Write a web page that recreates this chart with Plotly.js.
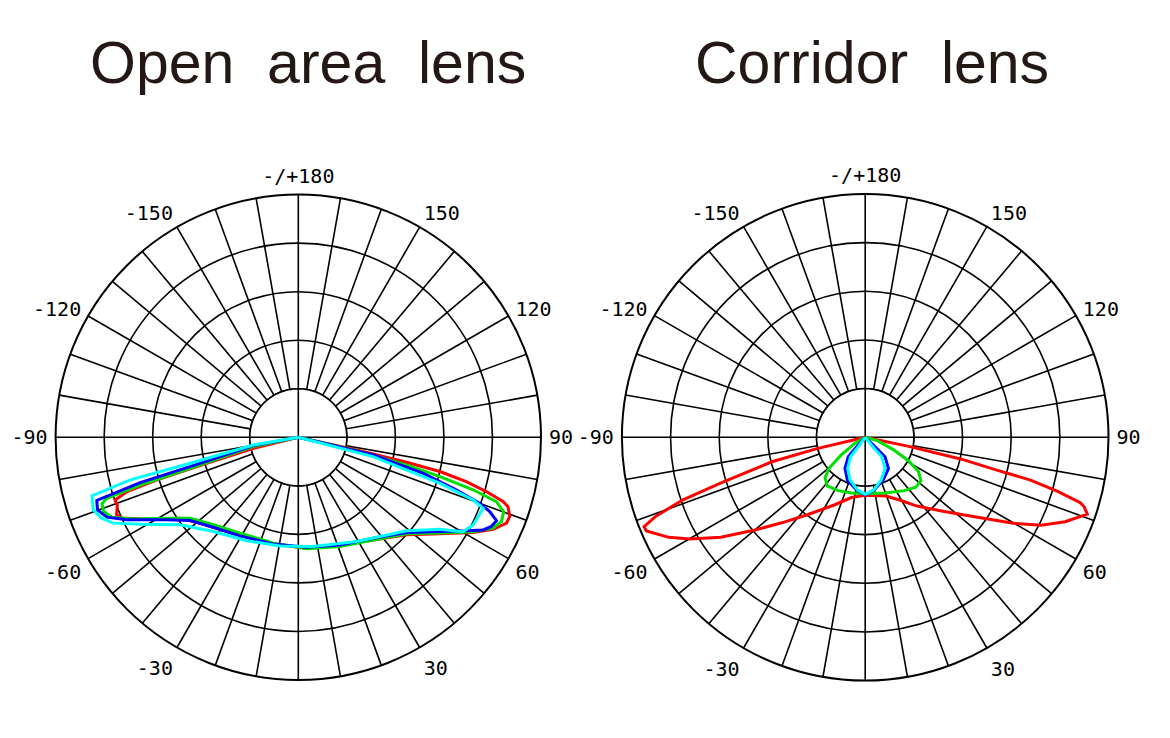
<!DOCTYPE html>
<html>
<head>
<meta charset="utf-8">
<script src="https://cdn.plot.ly/plotly-3.0.1.min.js"></script>
<style>
html,body{margin:0;padding:0;background:#fff;}
#chart{width:1170px;height:738px;}
</style>
</head>
<body>
<div id="chart"></div>
<script>
// ---------- Chart titles ----------
const titles = ["Open\u00a0\u00a0area\u00a0\u00a0lens", "Corridor\u00a0\u00a0lens"];

// ---------- Angular tick labels ----------
const tickAngles = [0,10,20,30,40,50,60,70,80,90,100,110,120,130,140,150,160,170,
                    180,190,200,210,220,230,240,250,260,270,280,290,300,310,320,330,340,350];
const tickLabels = ["","","","30","","","60","","","90","","","120","","","150","","",
                    "-/+180","","","-150","","","-120","","","-90","","","-60","","","-30","",""];
const ringValues = [1,2,3,4];

// ---------- Open area lens (angle in degrees, relative intensity) ----------
const openRedTheta = [-90,-76.3,-74.2,-73.2,-72.4,-71.1,-69.5,-66.9,-65.4,-61.6,-55.6,-48.8,-37.2,-22.1,-9.7,4.3,21.2,36.1,48.0,55.7,61.4,64.7,67.6,69.5,71.7,72.6,73.9,75.2,76.4,77.0,77.7,90];
const openRedR     = [0,0.95,1.96,3.04,3.70,3.99,3.98,4.07,4.00,3.55,2.95,2.69,2.44,2.28,2.25,2.29,2.38,2.62,3.00,3.53,4.10,4.44,4.64,4.65,4.55,4.42,4.03,3.58,3.00,2.29,1.23,0];

const openGreenTheta = [-90,-78.3,-74.0,-73.2,-72.35,-71.3,-69.1,-66.8,-63.6,-58.4,-53.2,-44.1,-31.3,-13.3,4.3,20.9,36.1,48.3,55.9,61.6,65.0,67.5,70.1,72.0,73.3,74.5,75.7,77.1,90];
const openGreenR     = [0,0.95,2.32,3.40,4.14,4.27,4.29,4.18,3.79,3.18,2.78,2.51,2.31,2.24,2.30,2.41,2.62,2.99,3.52,4.09,4.43,4.53,4.50,4.29,3.76,3.03,2.30,1.23,0];

const openBlueTheta = [-90,-79.5,-74.85,-74.0,-72.6,-70.1,-67.35,-64.3,-57.9,-52.4,-43.4,-30.6,-13.2,4.3,21.2,36.6,48.65,56.3,60.9,63.4,65.2,67.2,68.8,70.0,71.6,73.9,76.7,90];
const openBlueR     = [0,0.94,2.31,3.39,4.35,4.40,4.27,3.92,3.20,2.81,2.55,2.36,2.26,2.27,2.38,2.59,2.97,3.50,3.96,4.26,4.38,4.43,4.23,3.98,3.43,2.68,1.59,0];

const openCyanTheta = [-90,-80.3,-76.5,-75.8,-74.15,-70.5,-67.6,-65.1,-61.2,-53.5,-42.0,-26.5,-9.6,7.8,29.2,49.2,57.0,60.2,63.4,69.0,70.3,72.0,75.5,90];
const openCyanR     = [0,0.94,2.29,3.57,4.42,4.48,4.38,4.20,3.72,3.03,2.61,2.38,2.27,2.27,2.46,2.95,3.48,3.91,4.03,4.08,3.82,3.06,1.59,0];

// ---------- Corridor lens ----------
const corrRedTheta = [-90,-76.8,-75.3,-72.4,-71.05,-69.3,-68.0,-66.8,-63.0,-59.9,-55.3,-49.95,-44.1,-37.0,-24.6,-12.9,0,19.4,28.8,37.0,46.8,54.85,59.9,63.4,67.1,70.9,72.4,73.1,74.3,75.5,76.0,77.2,78.2,90];
const corrRedR     = [0,1.02,1.98,3.12,3.97,4.61,4.90,4.89,4.53,4.17,3.61,2.96,2.44,2.00,1.53,1.27,1.19,1.28,1.47,1.77,2.23,2.86,3.52,4.04,4.46,4.83,4.72,4.62,4.12,3.51,2.77,2.03,0.94,0];

const corrGreenTheta = [-90,-59.9,-53.7,-49.4,-44.8,-38.0,-26.9,-13.7,0,20.05,36.3,45.4,52.1,57.3,61.6,66.4,74.7,90];
const corrGreenR     = [0,0.25,0.61,0.98,1.17,1.27,1.23,1.18,1.16,1.22,1.36,1.46,1.45,1.30,1.01,0.62,0.26,0];

const corrBlueTheta = [-90,-42.4,-41.1,-33.1,-22.7,-9.2,0,9.5,23.0,36.7,45.7,46.3,90];
const corrBlueR     = [0,0.26,0.53,0.76,0.95,1.10,1.18,1.10,0.95,0.80,0.57,0.28,0];

const corrCyanTheta = [-90,-36.3,-37.0,-29.5,-19.6,-8.5,0,8.8,20.3,32.6,40.4,38.6,90];
const corrCyanR     = [0,0.24,0.50,0.73,0.93,1.09,1.17,1.10,0.94,0.76,0.52,0.25,0];

const seriesColors = ["#ff0000", "#00e000", "#0000ff", "#00ffff"];

// ---------- build ----------
const holeTheta = [];
const holeR = [];
for (let a = 0; a <= 360; a += 3) { holeTheta.push(a); holeR.push(1); }

function frameTraces(sub) {
  return [
    {type:"scatterpolar", subplot:sub, mode:"lines", r:holeR, theta:holeTheta,
     fill:"toself", fillcolor:"#ffffff", line:{color:"#000", width:1.6},
     hoverinfo:"skip", showlegend:false},
    {type:"scatterpolar", subplot:sub, mode:"lines",
     r:[1,1,null,1,1], theta:[-90,90,null,0,180],
     line:{color:"#000", width:1.6}, hoverinfo:"skip", showlegend:false}
  ];
}
function curve(sub, th, r, color) {
  return {type:"scatterpolar", subplot:sub, mode:"lines", r:r, theta:th,
          line:{color:color, width:3}, showlegend:false};
}

const data = [].concat(
  frameTraces("polar"),
  [curve("polar", openRedTheta, openRedR, seriesColors[0]),
   curve("polar", openGreenTheta, openGreenR, seriesColors[1]),
   curve("polar", openBlueTheta, openBlueR, seriesColors[2]),
   curve("polar", openCyanTheta, openCyanR, seriesColors[3])],
  frameTraces("polar2"),
  [curve("polar2", corrRedTheta, corrRedR, seriesColors[0]),
   curve("polar2", corrGreenTheta, corrGreenR, seriesColors[1]),
   curve("polar2", corrBlueTheta, corrBlueR, seriesColors[2]),
   curve("polar2", corrCyanTheta, corrCyanR, seriesColors[3])]
);

function polarCfg(dx, dy) {
  return {
    domain:{x:dx, y:dy},
    bgcolor:"#ffffff",
    radialaxis:{range:[0,5], tickmode:"array", tickvals:ringValues, showticklabels:false,
                ticks:"", showline:false, gridcolor:"#000", gridwidth:1.6},
    angularaxis:{rotation:-90, direction:"counterclockwise", tickmode:"array",
                 tickvals:tickAngles, ticktext:tickLabels,
                 ticks:"outside", ticklen:3, tickcolor:"rgba(0,0,0,0)",
                 showline:true, linecolor:"#000", linewidth:2,
                 gridcolor:"#000", gridwidth:1.6,
                 tickfont:{family:"DejaVu Sans Mono", size:20, color:"#000"}}
  };
}

const layout = {
  width:1170, height:738,
  margin:{l:0, r:0, t:0, b:0},
  paper_bgcolor:"#ffffff",
  showlegend:false,
  polar: polarCfg([0.04752, 0.46239], [0.07859, 0.73631]),
  polar2: polarCfg([0.53154, 0.94744], [0.07778, 0.73713]),
  annotations:[
    {text:titles[0], xref:"paper", yref:"paper", x:0.2632, y:(738-63)/738,
     xanchor:"center", yanchor:"middle", showarrow:false,
     font:{family:"Liberation Sans, Arial", size:59, color:"#231815"}},
    {text:titles[1], xref:"paper", yref:"paper", x:0.7453, y:(738-63)/738,
     xanchor:"center", yanchor:"middle", showarrow:false,
     font:{family:"Liberation Sans, Arial", size:59, color:"#231815"}}
  ]
};

Plotly.newPlot("chart", data, layout, {staticPlot:true, displayModeBar:false});
</script>
</body>
</html>
